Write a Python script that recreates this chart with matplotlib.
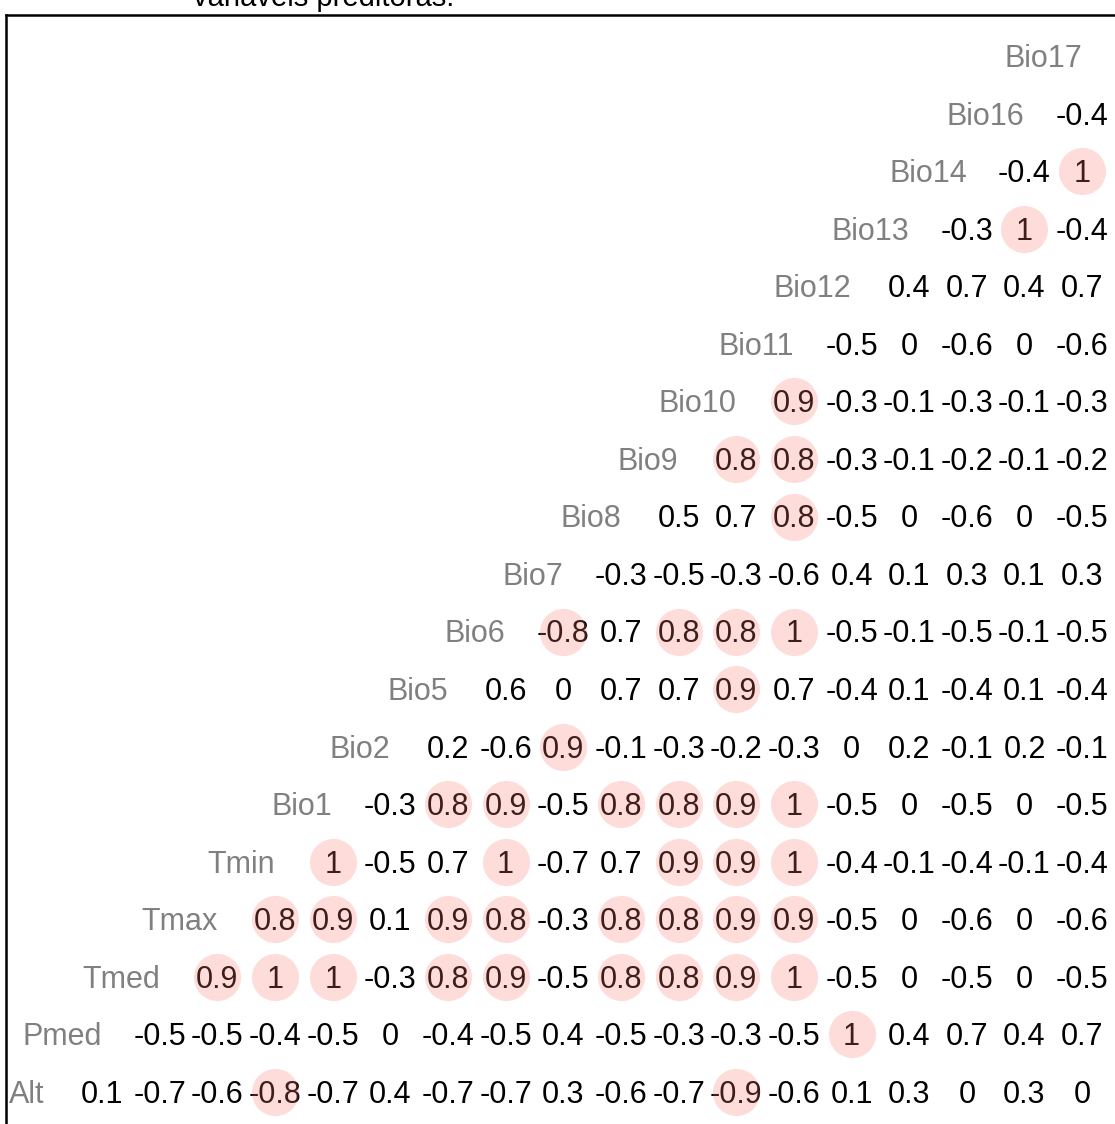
import matplotlib.pyplot as plt
from matplotlib.lines import Line2D

plt.rcParams['font.family'] = ['Liberation Sans', 'DejaVu Sans']

# variáveis na ordem da diagonal (de baixo para cima)
variaveis = ['Alt', 'Pmed', 'Tmed', 'Tmax', 'Tmin', 'Bio1', 'Bio2', 'Bio5', 'Bio6',
             'Bio7', 'Bio8', 'Bio9', 'Bio10', 'Bio11', 'Bio12', 'Bio13', 'Bio14',
             'Bio16', 'Bio17']

# correlações de cada variável com as variáveis seguintes da lista
corr_alt = [0.1, -0.7, -0.6, -0.8, -0.7, 0.4, -0.7, -0.7, 0.3, -0.6, -0.7, -0.9, -0.6, 0.1, 0.3, 0, 0.3, 0]
corr_pmed = [-0.5, -0.5, -0.4, -0.5, 0, -0.4, -0.5, 0.4, -0.5, -0.3, -0.3, -0.5, 1, 0.4, 0.7, 0.4, 0.7]
corr_tmed = [0.9, 1, 1, -0.3, 0.8, 0.9, -0.5, 0.8, 0.8, 0.9, 1, -0.5, 0, -0.5, 0, -0.5]
corr_tmax = [0.8, 0.9, 0.1, 0.9, 0.8, -0.3, 0.8, 0.8, 0.9, 0.9, -0.5, 0, -0.6, 0, -0.6]
corr_tmin = [1, -0.5, 0.7, 1, -0.7, 0.7, 0.9, 0.9, 1, -0.4, -0.1, -0.4, -0.1, -0.4]
corr_bio1 = [-0.3, 0.8, 0.9, -0.5, 0.8, 0.8, 0.9, 1, -0.5, 0, -0.5, 0, -0.5]
corr_bio2 = [0.2, -0.6, 0.9, -0.1, -0.3, -0.2, -0.3, 0, 0.2, -0.1, 0.2, -0.1]
corr_bio5 = [0.6, 0, 0.7, 0.7, 0.9, 0.7, -0.4, 0.1, -0.4, 0.1, -0.4]
corr_bio6 = [-0.8, 0.7, 0.8, 0.8, 1, -0.5, -0.1, -0.5, -0.1, -0.5]
corr_bio7 = [-0.3, -0.5, -0.3, -0.6, 0.4, 0.1, 0.3, 0.1, 0.3]
corr_bio8 = [0.5, 0.7, 0.8, -0.5, 0, -0.6, 0, -0.5]
corr_bio9 = [0.8, 0.8, -0.3, -0.1, -0.2, -0.1, -0.2]
corr_bio10 = [0.9, -0.3, -0.1, -0.3, -0.1, -0.3]
corr_bio11 = [-0.5, 0, -0.6, 0, -0.6]
corr_bio12 = [0.4, 0.7, 0.4, 0.7]
corr_bio13 = [-0.3, 1, -0.4]
corr_bio14 = [-0.4, 1]
corr_bio16 = [-0.4]
corr_bio17 = []

linhas = [corr_alt, corr_pmed, corr_tmed, corr_tmax, corr_tmin, corr_bio1, corr_bio2,
          corr_bio5, corr_bio6, corr_bio7, corr_bio8, corr_bio9, corr_bio10, corr_bio11,
          corr_bio12, corr_bio13, corr_bio14, corr_bio16, corr_bio17]

limiar = 0.8
tam = 22
desce = -0.355 * tam  # baixa a linha de base para centrar os dígitos na célula

fig = plt.figure(figsize=(11.15, 11.24), dpi=100)
ax = fig.add_axes([0, 0, 1, 1])
ax.set_xlim(-0.770, 18.570)
ax.set_ylim(-0.556, 18.975)
ax.axis('off')

cx, cy = [], []
for i, (nome, valores) in enumerate(zip(variaveis, linhas)):
    ax.annotate(nome, (i, i), xytext=(0, desce), textcoords='offset points',
                ha='right', va='baseline', color='#808080', fontsize=tam)
    for k, r in enumerate(valores):
        j = i + 1 + k
        ax.annotate(f'{r:g}', (j, i), xytext=(0, desce), textcoords='offset points',
                    ha='center', va='baseline', color='black', fontsize=tam)
        if abs(r) >= limiar:
            cx.append(j)
            cy.append(i)

# círculos destacando as correlações fortes
ax.scatter(cx, cy, s=1150, color='#F8766D', alpha=0.25, linewidths=0, zorder=3)

# moldura do painel
fig.add_artist(Line2D([6 / 1115, 6 / 1115], [1 - 15 / 1124, 0], color='black', lw=1.8))
fig.add_artist(Line2D([6 / 1115, 1], [1 - 15 / 1124, 1 - 15 / 1124], color='black', lw=1.8))

# legenda do quadro (parcialmente fora da área)
fig.text(193 / 1115, 1 - 6 / 1124, 'variáveis preditoras.', fontsize=21,
         ha='left', va='baseline')

fig.savefig('out.png', dpi=100)
